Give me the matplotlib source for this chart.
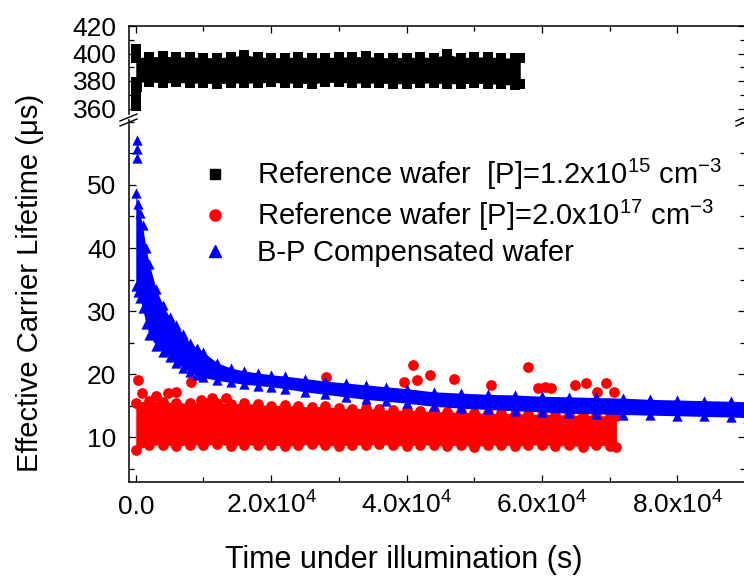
import matplotlib
matplotlib.use('Agg')
import matplotlib.pyplot as plt
from matplotlib.ticker import FixedLocator, MultipleLocator, FuncFormatter
from matplotlib.lines import Line2D

plt.rcParams['font.family'] = ['Liberation Sans', 'DejaVu Sans']
plt.rcParams['mathtext.fontset'] = 'custom'
plt.rcParams['mathtext.rm'] = 'Liberation Sans'
plt.rcParams['mathtext.it'] = 'Liberation Sans:italic'
plt.rcParams['mathtext.bf'] = 'Liberation Sans:bold'

# ---- data (time in s, lifetime in us) ----
# reference wafer 1.2e15: upper / lower edge of the dense band of squares
black_t = [0, 2000, 4000, 6000, 8000, 10000, 12000, 14000, 16000, 18000,
           20000, 22000, 24000, 26000, 28000, 30000, 32000, 34000, 36000, 38000,
           40000, 42000, 44000, 46000, 48000, 50000, 52000, 54000, 56000, 56800]
black_hi = [397.0, 397.5, 398.0, 397.5, 397.5, 397.0, 397.0, 397.5, 399.0, 397.5,
            397.0, 397.0, 397.5, 397.0, 397.0, 397.5, 397.5, 398.0, 397.0, 397.0,
            397.0, 397.5, 397.0, 399.5, 397.0, 397.5, 397.5, 397.0, 396.5, 396.5]
black_lo = [379.0, 379.5, 378.5, 379.0, 378.5, 378.5, 378.0, 378.5, 378.5, 378.5,
            379.0, 378.5, 378.5, 378.0, 379.0, 379.0, 378.5, 378.5, 378.5, 378.0,
            378.0, 378.5, 378.5, 378.0, 378.0, 378.5, 378.0, 377.5, 377.0, 378.0]
black_extra_t = [0, 0, 0, 0, 0, 200]
black_extra_v = [403.0, 362.0, 365.5, 369.0, 373.0, 376.0]

# reference wafer 2.0e17: dense band of circles + scattered points
red_t = [0, 2000, 4000, 6000, 8000, 10000, 12000, 14000, 16000, 18000,
         20000, 22000, 24000, 26000, 28000, 30000, 32000, 34000, 36000, 38000,
         40000, 42000, 44000, 46000, 48000, 50000, 52000, 54000, 56000, 58000,
         60000, 62000, 64000, 66000, 68000, 70000, 71000]
red_hi = [15.5, 15.8, 15.6, 15.5, 15.4, 15.6, 15.5, 15.3, 15.4, 15.2,
          15.0, 15.1, 14.9, 14.8, 14.9, 14.6, 14.5, 14.6, 14.4, 14.3,
          14.3, 14.2, 14.1, 14.0, 14.0, 13.9, 13.8, 13.8, 13.7, 13.7,
          13.6, 13.6, 13.5, 13.5, 13.4, 13.4, 13.3]
red_lo = [8.0, 8.7, 8.8, 8.6, 8.8, 8.7, 8.9, 8.6, 8.8, 8.7,
          8.8, 8.6, 8.7, 8.9, 8.7, 8.6, 8.8, 8.7, 8.9, 8.7,
          8.6, 8.8, 8.7, 8.6, 8.8, 8.5, 8.7, 8.8, 8.6, 8.7,
          8.8, 8.6, 8.7, 8.5, 8.7, 8.6, 8.4]
red_extra_t = [300, 900, 3000, 4700, 6000, 8200, 9700, 11300, 13400, 28100,
               39600, 41000, 41500, 43500, 47000, 52500, 57900, 59400, 60400,
               61300, 64900, 66500, 68200, 69400, 70700]
red_extra_v = [19.0, 17.0, 16.5, 17.0, 17.1, 18.7, 15.9, 16.2, 16.2, 19.5,
               18.7, 21.4, 19.0, 19.8, 19.3, 18.3, 21.1, 17.8, 17.9,
               17.8, 18.3, 18.6, 17.1, 18.6, 17.1]

# B-P compensated wafer: decaying band of triangles
blue_t = [0, 300, 600, 1000, 1500, 2000, 3000, 4000, 5000, 6000,
          7000, 8000, 9000, 10000, 12000, 14000, 16000, 18000, 20000, 22000,
          25000, 28000, 31000, 34000, 37000, 40000, 44000, 48000, 52000, 56000,
          60000, 64000, 68000, 72000, 76000, 80000, 84000, 88000, 90500]
blue_hi = [48.7, 47.0, 45.5, 43.6, 40.0, 37.5, 33.5, 31.0, 29.0, 27.8,
           26.3, 25.0, 24.2, 23.5, 21.8, 21.0, 20.5, 20.2, 19.9, 19.7,
           19.3, 18.9, 18.6, 18.3, 18.0, 17.7, 17.2, 17.0, 16.8, 16.7,
           16.5, 16.4, 16.3, 16.2, 16.0, 15.9, 15.8, 15.7, 15.6]
blue_lo = [34.0, 33.0, 32.0, 30.5, 28.0, 26.2, 24.5, 23.5, 22.7, 21.8,
           21.0, 20.3, 19.8, 19.5, 19.0, 18.7, 18.4, 18.2, 18.0, 17.7,
           17.2, 16.8, 16.4, 16.0, 15.7, 15.4, 14.9, 14.6, 14.4, 14.2,
           14.0, 13.8, 13.7, 13.6, 13.5, 13.4, 13.3, 13.2, 13.1]
blue_extra_t = [150, 150, 150]
blue_extra_v = [54.3, 55.7, 57.1]

labels = ['Reference wafer  [P]=1.2x10$^{15}$ cm$^{-3}$',
          'Reference wafer [P]=2.0x10$^{17}$ cm$^{-3}$',
          'B-P Compensated wafer']

W, H = 744, 578
fig = plt.figure(figsize=(W / 100, H / 100), dpi=100)


def box(l, t, r, b):
    return [l / W, 1 - b / H, (r - l) / W, (b - t) / H]


ax_top = fig.add_axes(box(129, 26, 745, 114))
ax_bot = fig.add_axes(box(129, 120, 745, 482))


def band(ax, t, hi, lo, color, marker, s, z):
    ax.fill_between(t, lo, hi, color=color, lw=0, zorder=z)
    ax.scatter(t, hi, marker=marker, s=s, c=color, lw=0, zorder=z)
    ax.scatter(t, lo, marker=marker, s=s, c=color, lw=0, zorder=z)


band(ax_top, black_t, black_hi, black_lo, 'black', 's', 45, 2)
ax_top.scatter(black_extra_t, black_extra_v, marker='s', s=45, c='black', lw=0, zorder=2)

band(ax_bot, red_t, red_hi, red_lo, '#ff0000', 'o', 60, 2)
ax_bot.scatter(red_extra_t, red_extra_v, marker='o', s=60, c='#ff0000', lw=0, zorder=2)
band(ax_bot, blue_t, blue_hi, blue_lo, '#0000ff', '^', 55, 3)
ax_bot.scatter(blue_extra_t, blue_extra_v, marker='^', s=55, c='#0000ff', lw=0, zorder=3)

xlim = (-1000, 90000)
ax_top.set_xlim(*xlim)
ax_bot.set_xlim(*xlim)
ax_top.set_ylim(356, 420)
ax_bot.set_ylim(2.9, 60.3)

ax_top.spines['bottom'].set_visible(False)
ax_bot.spines['top'].set_visible(False)
for ax in (ax_top, ax_bot):
    for sp in ax.spines.values():
        sp.set_linewidth(1.1)
    ax.xaxis.set_major_locator(MultipleLocator(20000))
    ax.xaxis.set_minor_locator(MultipleLocator(10000))
    ax.tick_params(which='major', direction='in', length=5, width=0.9,
                   labelsize=19, pad=9)
    ax.tick_params(which='minor', direction='in', length=3.3, width=0.9)

ax_top.yaxis.set_major_locator(FixedLocator([360, 380, 400, 420]))
ax_top.yaxis.set_minor_locator(MultipleLocator(10))
ax_bot.yaxis.set_major_locator(FixedLocator([10, 20, 30, 40, 50]))
ax_bot.yaxis.set_minor_locator(MultipleLocator(5))

ax_top.tick_params(axis='x', which='both', top=True, bottom=False,
                   labelbottom=False, labeltop=False)
ax_top.tick_params(axis='y', which='both', left=True, right=True)
ax_bot.tick_params(axis='x', which='both', top=False, bottom=True, pad=23)
ax_bot.tick_params(axis='y', which='both', left=True, right=True)


def xfmt(v, pos):
    if v == 0:
        return '0.0'
    return '%.1fx10$^{4}$' % (v / 1e4)


ax_bot.xaxis.set_major_formatter(FuncFormatter(xfmt))
for tk in ax_bot.xaxis.get_major_ticks():
    tk.label1.set_va('baseline')

handles = [Line2D([], [], ls='none', marker='s', color='black', markersize=7),
           Line2D([], [], ls='none', marker='o', color='#ff0000', markersize=8),
           Line2D([], [], ls='none', marker='^', color='#0000ff', markersize=8)]
fig.legend(handles, labels, loc='upper left', bbox_to_anchor=(200 / W, 1 - 157 / H),
           frameon=False, fontsize=21, handlelength=1.0, handletextpad=0.97,
           borderpad=0, borderaxespad=0, labelspacing=0.2)

fig.text(404 / W, 1 - 568 / H, 'Time under illumination (s)', ha='center',
         va='baseline', fontsize=22)
fig.text(30 / W, 1 - 283 / H, 'Effective Carrier Lifetime (\u03bcs)', rotation=90,
         ha='center', va='center', fontsize=21)

# axis break marks
for x0 in (120, 736):
    for dy in (0, 5):
        fig.add_artist(Line2D([x0 / W, (x0 + 17) / W],
                              [1 - (121 + dy) / H, 1 - (114 + dy) / H],
                              color='black', lw=1.0))

fig.savefig('out.png', dpi=100)
